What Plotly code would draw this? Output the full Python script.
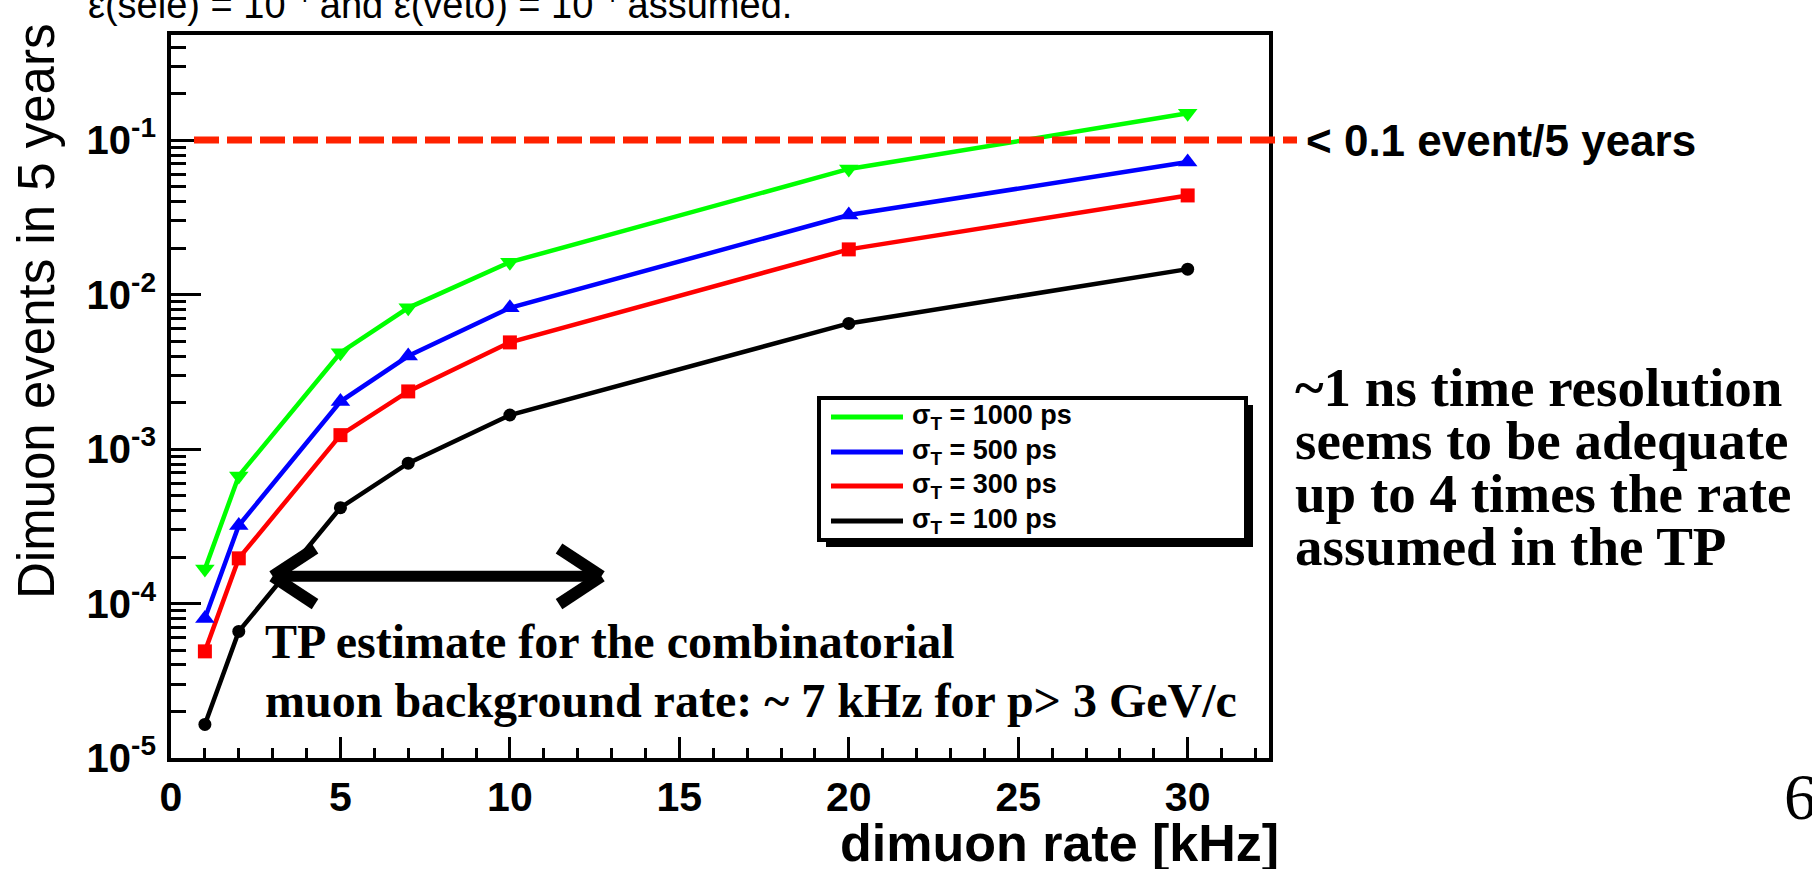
import numpy as np
import plotly.graph_objects as go

# ---------------- data ----------------
rate_khz = [1, 2, 5, 7, 10, 20, 30]
events_1000ps = [1.67e-4, 6.7e-4, 4.2e-3, 8.2e-3, 1.62e-2, 6.5e-2, 1.49e-1]
events_500ps = [8.0e-5, 3.2e-4, 2.03e-3, 4.0e-3, 8.2e-3, 3.27e-2, 7.2e-2]
events_300ps = [4.9e-5, 1.96e-4, 1.23e-3, 2.36e-3, 4.9e-3, 1.96e-2, 4.38e-2]
events_100ps = [1.65e-5, 6.6e-5, 4.17e-4, 8.1e-4, 1.66e-3, 6.5e-3, 1.46e-2]
series_labels = ["σ<sub>T</sub> = 1000 ps", "σ<sub>T</sub> = 500 ps",
                 "σ<sub>T</sub> = 300 ps", "σ<sub>T</sub> = 100 ps"]
threshold = 0.1
x_tick_vals = [0, 5, 10, 15, 20, 25, 30]
y_tick_vals = [1e-5, 1e-4, 1e-3, 1e-2, 1e-1]
y_tick_text = ["10<sup>-5</sup>", "10<sup>-4</sup>", "10<sup>-3</sup>",
               "10<sup>-2</sup>", "10<sup>-1</sup>"]
arrow_x = [3.0, 12.7]     # TP estimate range arrow (kHz)
arrow_y = 1.5e-4

# ---------------- geometry helpers ----------------
W, H = 1812, 869
L, R, T, B = 171, 1269, 35, 758
XMIN, XMAX = 0, 32.4
YMIN, YMAX = -5, -0.32


def px(x):
    return (x - L) / (R - L)


def py(y):
    return (B - y) / (B - T)


def yp(v):
    return (np.log10(v) - YMIN) / (YMAX - YMIN)


SANS = "Liberation Sans, Arial, Helvetica, sans-serif"
SERIF = "Liberation Serif, Times New Roman, Times, serif"

series = [
    (events_1000ps, "#00ff00", "triangle-down", 17),
    (events_500ps, "#0000ff", "triangle-up", 17),
    (events_300ps, "#ff0000", "square", 14),
    (events_100ps, "#000000", "circle", 13),
]

fig = go.Figure()
for (vals, col, sym, ms), lab in reversed(list(zip(series, series_labels))):
    fig.add_trace(go.Scatter(
        x=rate_khz, y=vals, mode="lines+markers", name=lab,
        line=dict(color=col, width=4.5),
        marker=dict(color=col, symbol=sym, size=ms, line=dict(width=0)),
        showlegend=False,
    ))

shapes = []
# threshold dashed line
shapes.append(dict(type="line", xref="paper", yref="paper",
                   x0=px(194), x1=px(1297),
                   y0=yp(threshold), y1=yp(threshold),
                   line=dict(color="#ff2200", width=7, dash="25px,8px"),
                   layer="above"))

# double-headed arrow
ay = yp(arrow_y)
dx, dy = 1.25, 0.18 / (YMAX - YMIN)
aw = 11
shapes += [
    dict(type="line", xref="x", yref="paper", x0=arrow_x[0] + 0.2, x1=arrow_x[1] - 0.2,
         y0=ay, y1=ay, line=dict(color="black", width=aw), layer="above"),
    dict(type="line", xref="x", yref="paper", x0=arrow_x[0], x1=arrow_x[0] + dx,
         y0=ay, y1=ay + dy, line=dict(color="black", width=aw + 1), layer="above"),
    dict(type="line", xref="x", yref="paper", x0=arrow_x[0], x1=arrow_x[0] + dx,
         y0=ay, y1=ay - dy, line=dict(color="black", width=aw + 1), layer="above"),
    dict(type="line", xref="x", yref="paper", x0=arrow_x[1], x1=arrow_x[1] - dx,
         y0=ay, y1=ay + dy, line=dict(color="black", width=aw + 1), layer="above"),
    dict(type="line", xref="x", yref="paper", x0=arrow_x[1], x1=arrow_x[1] - dx,
         y0=ay, y1=ay - dy, line=dict(color="black", width=aw + 1), layer="above"),
]

# legend box with shadow
bx0, by0, bx1, by1 = 819, 398, 1246, 540
sh = 7
shapes.append(dict(type="rect", xref="paper", yref="paper",
                   x0=px(bx0 + sh), x1=px(bx1 + sh), y0=py(by1 + sh), y1=py(by0 + sh),
                   fillcolor="black", line=dict(width=0), layer="above"))
shapes.append(dict(type="rect", xref="paper", yref="paper",
                   x0=px(bx0), x1=px(bx1), y0=py(by1), y1=py(by0),
                   fillcolor="white", line=dict(color="black", width=4), layer="above"))
rows = [417, 452, 486, 521]
annotations = []
for (vals, col, sym, ms), lab, ry in zip(series, series_labels, rows):
    shapes.append(dict(type="line", xref="paper", yref="paper",
                       x0=px(831), x1=px(903), y0=py(ry), y1=py(ry),
                       line=dict(color=col, width=5), layer="above"))
    annotations.append(dict(xref="paper", yref="paper", x=px(910), y=py(ry),
                            xanchor="left", yanchor="middle", showarrow=False,
                            text=lab, font=dict(family=SANS, size=27, color="black",
                                                weight="bold")))

# texts
annotations += [
    dict(xref="paper", yref="paper", x=px(86), y=py(28), xanchor="left", yanchor="bottom",
         showarrow=False,
         text="ε(sele) = 10<sup>-4</sup> and ε(veto) = 10<sup>-4</sup> assumed.",
         font=dict(family=SANS, size=38, color="black")),
    dict(xref="paper", yref="paper", x=px(36), y=py(312), xanchor="center", yanchor="middle",
         textangle=-90, showarrow=False, text="Dimuon events in 5 years",
         font=dict(family=SANS, size=51, color="black")),
    dict(xref="paper", yref="paper", x=px(1281), y=py(843), xanchor="right", yanchor="middle",
         showarrow=False, text="dimuon rate [kHz]",
         font=dict(family=SANS, size=52, color="black", weight="bold")),
    dict(xref="paper", yref="paper", x=px(1304), y=yp(threshold), xanchor="left",
         yanchor="middle", showarrow=False, text="< 0.1 event/5 years",
         font=dict(family=SANS, size=44, color="black", weight="bold")),
    dict(xref="paper", yref="paper", x=px(263), y=py(641), xanchor="left", yanchor="middle",
         showarrow=False, text="TP estimate for the combinatorial",
         font=dict(family=SERIF, size=48, color="black", weight="bold")),
    dict(xref="paper", yref="paper", x=px(263), y=py(700), xanchor="left", yanchor="middle",
         showarrow=False, text="muon background rate: ~ 7 kHz for p> 3 GeV/c",
         font=dict(family=SERIF, size=48, color="black", weight="bold")),
    dict(xref="paper", yref="paper", x=px(1782), y=py(797), xanchor="left", yanchor="middle",
         showarrow=False, text="6",
         font=dict(family=SERIF, size=65, color="black")),
]
right_lines = ["~1 ns time resolution", "seems to be adequate",
               "up to 4 times the rate", "assumed in the TP"]
for i, t in enumerate(right_lines):
    annotations.append(dict(xref="paper", yref="paper", x=px(1293), y=py(387 + 53 * i),
                            xanchor="left", yanchor="middle", showarrow=False, text=t,
                            font=dict(family=SERIF, size=55, color="black", weight="bold")))

fig.update_layout(
    width=W, height=H,
    margin=dict(l=L, r=W - R, t=T, b=H - B, pad=0),
    paper_bgcolor="white", plot_bgcolor="white",
    shapes=shapes, annotations=annotations,
    showlegend=False,
)
fig.update_xaxes(
    range=[XMIN, XMAX], tickmode="array", tickvals=x_tick_vals,
    ticks="inside", ticklen=21, tickwidth=3, tickcolor="black",
    minor=dict(ticks="inside", dtick=1, ticklen=10, tickwidth=3, tickcolor="black"),
    showgrid=False, zeroline=False, showline=True, linewidth=4, linecolor="black",
    mirror=True, ticklabelstandoff=0,
    tickfont=dict(family=SANS, size=41, color="black", weight="bold"),
)
fig.update_yaxes(
    type="log", range=[YMIN, YMAX], tickmode="array", tickvals=y_tick_vals,
    ticktext=y_tick_text,
    ticks="inside", ticklen=30, tickwidth=3, tickcolor="black",
    minor=dict(ticks="inside", dtick="D1", ticklen=15, tickwidth=3, tickcolor="black"),
    showgrid=False, zeroline=False, showline=True, linewidth=4, linecolor="black",
    mirror=True, ticklabelstandoff=3,
    tickfont=dict(family=SANS, size=40, color="black", weight="bold"),
)

fig.write_html("out.html",
               config={"displayModeBar": False},
               post_script="document.body.style.margin='0px';"
                           "document.body.style.overflow='hidden';")
